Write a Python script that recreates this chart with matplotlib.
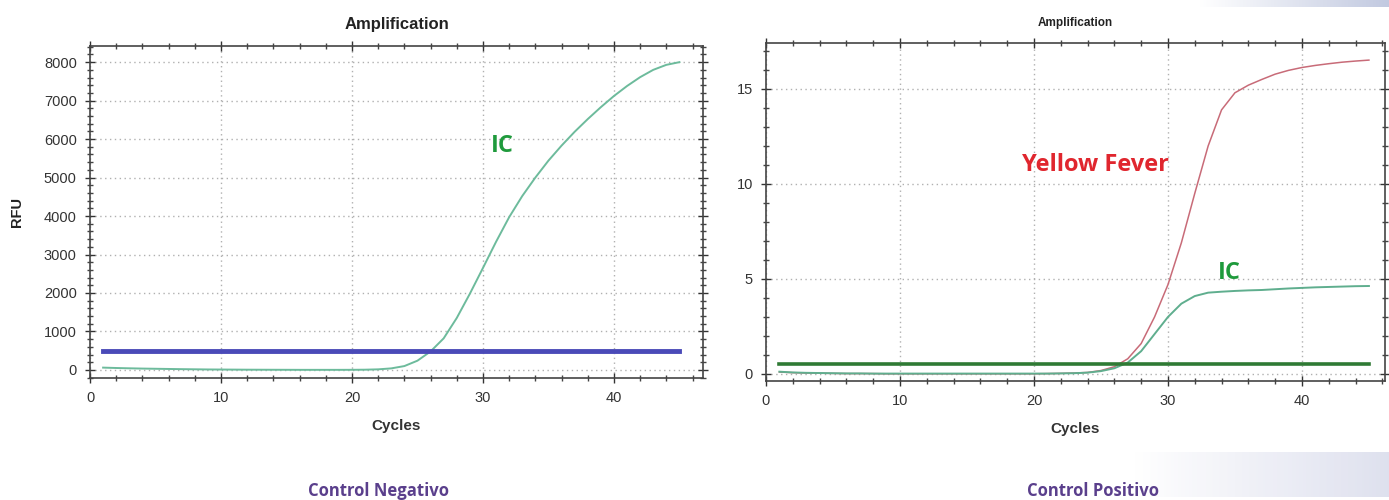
import matplotlib
matplotlib.use("Agg")
import matplotlib.pyplot as plt
import numpy as np
from matplotlib.ticker import MultipleLocator

# ---------------- data ----------------
cycles = list(range(1, 46))

neg_ic = [60, 50, 42, 35, 30, 25, 20, 16, 12, 10, 8, 6, 5, 4, 3, 2, 2, 2, 2, 3,
          6, 15, 40, 100, 240, 480, 820, 1350, 1980, 2650, 3330, 3970, 4520, 5000,
          5440, 5830, 6190, 6520, 6830, 7120, 7380, 7610, 7800, 7930, 8000]
neg_threshold = 500

pos_yf = [0.10, 0.07, 0.05, 0.04, 0.03, 0.02, 0.02, 0.02, 0.01, 0.01, 0.01, 0.01,
          0.01, 0.01, 0.01, 0.01, 0.01, 0.01, 0.01, 0.01, 0.02, 0.03, 0.05, 0.08,
          0.18, 0.38, 0.80, 1.6, 3.0, 4.7, 6.9, 9.5, 12.0, 13.9, 14.8, 15.2, 15.5,
          15.78, 15.98, 16.13, 16.24, 16.33, 16.41, 16.47, 16.52]
pos_ic = [0.12, 0.08, 0.06, 0.05, 0.04, 0.03, 0.03, 0.02, 0.02, 0.02, 0.02, 0.02,
          0.02, 0.02, 0.02, 0.02, 0.02, 0.02, 0.02, 0.02, 0.02, 0.03, 0.04, 0.07,
          0.15, 0.30, 0.60, 1.2, 2.1, 3.0, 3.7, 4.1, 4.28, 4.33, 4.37, 4.40, 4.42,
          4.46, 4.50, 4.53, 4.56, 4.58, 4.60, 4.62, 4.63]
pos_threshold = 0.5

title = "Amplification"
xlabel = "Cycles"
ylabel_left = "RFU"
panel_labels = ["Control Negativo", "Control Positivo"]

# ---------------- figure ----------------
W, H = 1389, 500
fig = plt.figure(figsize=(W / 100, H / 100), dpi=100)
fig.patch.set_facecolor("white")

def frac_box(x0, x1, ytop, ybot):
    return [x0 / W, 1 - ybot / H, (x1 - x0) / W, (ybot - ytop) / H]

# faint decorative gradients (slide background)
def gradient(x0, x1, ytop, ybot, c_end, alpha):
    gax = fig.add_axes(frac_box(x0, x1, ytop, ybot), zorder=-5)
    g = np.linspace(0, 1, 256)[None, :]
    rgb = np.ones((1, 256, 4))
    for i in range(3):
        rgb[..., i] = 1 - g * (1 - c_end[i])
    rgb[..., 3] = alpha
    gax.imshow(rgb, aspect="auto", extent=[0, 1, 0, 1])
    gax.axis("off")

gradient(1200, 1389, 0, 7, (0.76, 0.79, 0.88), 1.0)
gradient(1135, 1389, 452, 497, (0.86, 0.87, 0.93), 0.9)

ax1 = fig.add_axes(frac_box(90, 703, 46, 378))
ax2 = fig.add_axes(frac_box(766, 1385, 43, 381))

tick_font = dict(family="Liberation Sans", size=10.5, color="#333333")

def style(ax, ymajor, yminor):
    ax.xaxis.set_major_locator(MultipleLocator(10))
    ax.xaxis.set_minor_locator(MultipleLocator(2))
    ax.yaxis.set_major_locator(MultipleLocator(ymajor))
    ax.yaxis.set_minor_locator(MultipleLocator(yminor))
    ax.grid(True, which="major", linestyle=(0, (1, 2.5)), color="#b0b0b0", linewidth=1.0)
    ax.tick_params(which="major", direction="inout", length=7, width=1, color="#333333",
                   top=True, right=True, pad=6)
    ax.tick_params(which="minor", direction="inout", length=4, width=1, color="#444444",
                   top=True, right=True)
    for lab in ax.get_xticklabels() + ax.get_yticklabels():
        lab.set_fontfamily(tick_font["family"])
        lab.set_fontsize(tick_font["size"])
        lab.set_color(tick_font["color"])
    for sp in ax.spines.values():
        sp.set_color("#444444")
        sp.set_linewidth(1.2)

# Left panel
ax1.plot(cycles, neg_ic, color="#6dbb9c", linewidth=1.4, zorder=3)
ax1.plot([cycles[0], cycles[-1]], [neg_threshold, neg_threshold], color="#4a4ab8",
         linewidth=3.5, zorder=4)
ax1.set_xlim(0, 46.8)
ax1.set_ylim(-210, 8420)
style(ax1, 1000, 200)
ax1.set_title(title, fontsize=12, fontweight="bold", family="Liberation Sans",
              color="#222222", pad=12)
ax1.set_xlabel(xlabel, fontsize=11, fontweight="bold", family="Liberation Sans",
               color="#333333", labelpad=10)
ax1.set_ylabel(ylabel_left, fontsize=10.5, fontweight="bold", family="Liberation Sans",
               color="#222222", labelpad=14)
ax1.text(31.5, 5830, "IC", color="#1f9a3c", fontsize=17, fontweight="bold",
         family="Open Sans", ha="center", va="center")

# Right panel
ax2.plot(cycles, pos_yf, color="#c86b78", linewidth=1.1, zorder=3)
ax2.plot(cycles, pos_ic, color="#5fae8e", linewidth=1.4, zorder=3)
ax2.plot([cycles[0], cycles[-1]], [pos_threshold, pos_threshold], color="#2f7a34",
         linewidth=2.6, zorder=4)
ax2.set_xlim(0, 46.2)
ax2.set_ylim(-0.37, 17.42)
style(ax2, 5, 1)
ax2.set_title(title, fontsize=8.5, fontweight="bold", family="Liberation Sans",
              color="#222222", pad=12)
ax2.set_xlabel(xlabel, fontsize=11, fontweight="bold", family="Liberation Sans",
               color="#333333", labelpad=10)
ax2.text(24.6, 11.0, "Yellow Fever", color="#e0262e", fontsize=17, fontweight="bold",
         family="Open Sans", ha="center", va="center")
ax2.text(34.6, 5.3, "IC", color="#1f9a3c", fontsize=17, fontweight="bold",
         family="Open Sans", ha="center", va="center")

# Bottom captions
fig.text(378 / W, 1 - 491 / H, panel_labels[0], color="#5a3f8c", fontsize=12,
         fontweight="bold", family="Open Sans", ha="center", va="center")
fig.text(1093 / W, 1 - 491 / H, panel_labels[1], color="#5a3f8c", fontsize=12,
         fontweight="bold", family="Open Sans", ha="center", va="center")

fig.savefig("out.png", dpi=100, facecolor="white")
